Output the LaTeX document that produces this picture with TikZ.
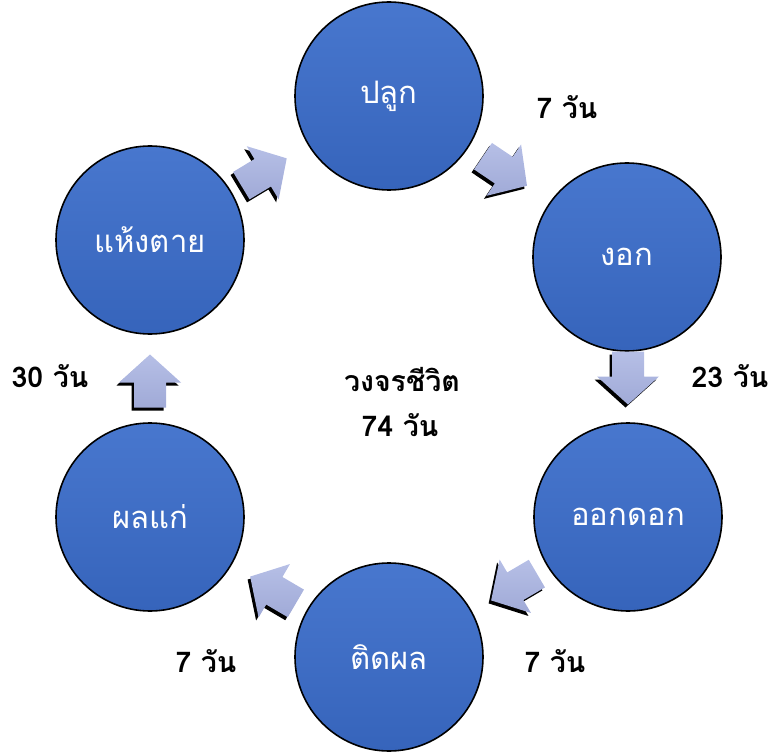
\documentclass[tikz,border=0pt]{standalone}
\usepackage{fontspec}
\newfontfamily\thaifont[Script=Thai]{Loma}
\definecolor{circtop}{HTML}{4877CE}
\definecolor{circbot}{HTML}{3664BB}
\definecolor{arrtop}{HTML}{B6BFE6}
\definecolor{arrbot}{HTML}{A0AAD7}
\tikzset{
  stage/.style={circle, minimum size=188pt, inner sep=0pt, draw=black, line width=1.6pt,
    top color=circtop, bottom color=circbot, text=white, font=\thaifont\fontsize{31}{36}\selectfont},
  daylabel/.style={font=\thaifont\bfseries\fontsize{28.5}{32}\selectfont, text=black, inner sep=0pt},
  arrowshadow/.pic={
    \fill[black] (-26.5,-16) -- ++(25,0) -- ++(0,-15) -- ++(28,31) -- ++(-28,31) -- ++(0,-15) -- ++(-25,0) -- cycle;
  },
  arrowbody/.pic={
    \shade[top color=arrtop, bottom color=arrbot] (-26.5,-16) -- ++(25,0) -- ++(0,-15) -- ++(28,31) -- ++(-28,31) -- ++(0,-15) -- ++(-25,0) -- cycle;
  }
}
\begin{document}
\begin{tikzpicture}[x=1pt,y=-1pt]
\useasboundingbox (0,0) rectangle (774,754);
\node[stage] (plant) at (389,96) {ปลูก};
\node[stage] (sprout) at (627,257) {งอก};
\node[stage] (bloom) at (628,517) {ออกดอก};
\node[stage] (fruit) at (389,657) {ติดผล};
\node[stage] (ripe) at (150,517) {ผลแก่};
\node[stage] (dead) at (150,240) {แห้งตาย};

\coordinate (a1) at (264,172);
\coordinate (a2) at (505,171);
\coordinate (a3) at (628,378);
\coordinate (a4) at (514,587);
\coordinate (a5) at (273,590);
\coordinate (a6) at (150,381);
\foreach \c/\r in {a1/31, a2/-34, a3/-90, a4/-149.6, a5/149.6, a6/90}{
  \pic[shift={(-2.5,3)}, rotate=\r] at (\c) {arrowshadow};
  \pic[rotate=\r] at (\c) {arrowbody};
}

\node[daylabel] (l1) at (567,107) {7 วัน};
\node[daylabel] (l2) at (730,376) {23 วัน};
\node[daylabel] (l3) at (555,661) {7 วัน};
\node[daylabel] (l4) at (206,661) {7 วัน};
\node[daylabel] (l5) at (50,376) {30 วัน};
\node[daylabel] (c1) at (402,380) {วงจรชีวิต};
\node[daylabel] (c2) at (400,425) {74 วัน};
\end{tikzpicture}
\end{document}
